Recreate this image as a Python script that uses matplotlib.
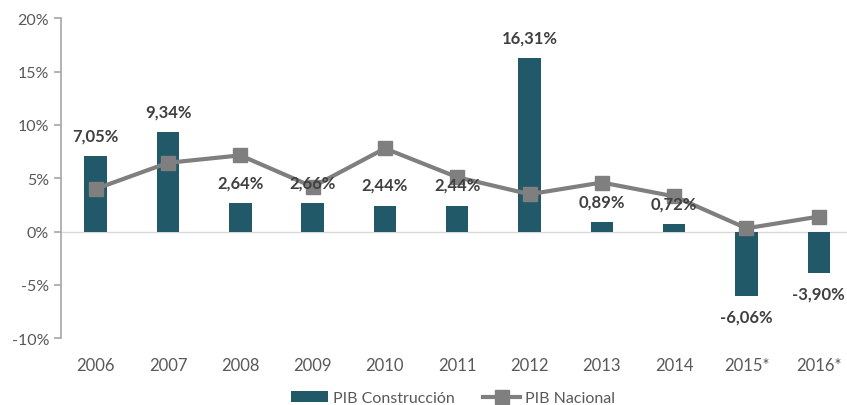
import numpy as np
import matplotlib.pyplot as plt
from matplotlib.ticker import PercentFormatter

years = ['2006', '2007', '2008', '2009', '2010', '2011', '2012', '2013', '2014', '2015*', '2016*']
pib_construccion = [7.05, 9.34, 2.64, 2.66, 2.44, 2.44, 16.31, 0.89, 0.72, -6.06, -3.90]
pib_nacional = [4.0, 6.45, 7.15, 4.2, 7.8, 5.1, 3.5, 4.6, 3.3, 0.3, 1.4]

bar_color = '#215968'
line_color = '#7f7f7f'
text_color = '#404040'
tick_color = '#595959'

plt.rcParams['font.family'] = ['Lato', 'DejaVu Sans']
plt.rcParams['axes.unicode_minus'] = False

fig = plt.figure(figsize=(8.47, 4.06), dpi=100)
ax = fig.add_axes([0.072, 0.165, 0.928, 0.787])

x = np.arange(len(years))
bars = ax.bar(x, pib_construccion, width=0.31, color=bar_color, label='PIB Construcción', zorder=2)
line, = ax.plot(x, pib_nacional, color=line_color, lw=3, marker='s', markersize=10,
                markerfacecolor=line_color, markeredgecolor=line_color, label='PIB Nacional', zorder=3)

for xi, v in zip(x, pib_construccion):
    lab = ('%.2f%%' % v).replace('.', ',')
    if v >= 0:
        ax.annotate(lab, (xi, v), xytext=(0, 9), textcoords='offset points',
                    ha='center', va='bottom', fontsize=12, fontweight='bold', color=text_color, zorder=4)
    else:
        ax.annotate(lab, (xi, v), xytext=(0, -9), textcoords='offset points',
                    ha='center', va='top', fontsize=12, fontweight='bold', color=text_color, zorder=4)

ax.axhline(0, color='#d9d9d9', lw=1, zorder=1)
ax.set_xlim(-0.48, 10.39)
ax.set_ylim(-10, 20)
ax.set_yticks(np.arange(-10, 21, 5))
ax.yaxis.set_major_formatter(PercentFormatter(decimals=0))
ax.set_xticks(x)
ax.set_xticklabels(years)

for s in ['top', 'right', 'bottom']:
    ax.spines[s].set_visible(False)
ax.spines['left'].set_color('#a6a6a6')
ax.spines['left'].set_linewidth(1.2)
ax.tick_params(axis='y', colors='#a6a6a6', labelcolor=tick_color, labelsize=11.5, length=5, width=1.2)
ax.tick_params(axis='x', length=0, labelcolor=tick_color, labelsize=12, pad=14)

fig.legend([bars, line], ['PIB Construcción', 'PIB Nacional'], loc='center',
           bbox_to_anchor=(0.535, 0.017), ncol=2, frameon=False,
           fontsize=11.5, labelcolor=tick_color, handlelength=2.3, handletextpad=0.3, columnspacing=1.8)

fig.savefig('out.png', dpi=100)
